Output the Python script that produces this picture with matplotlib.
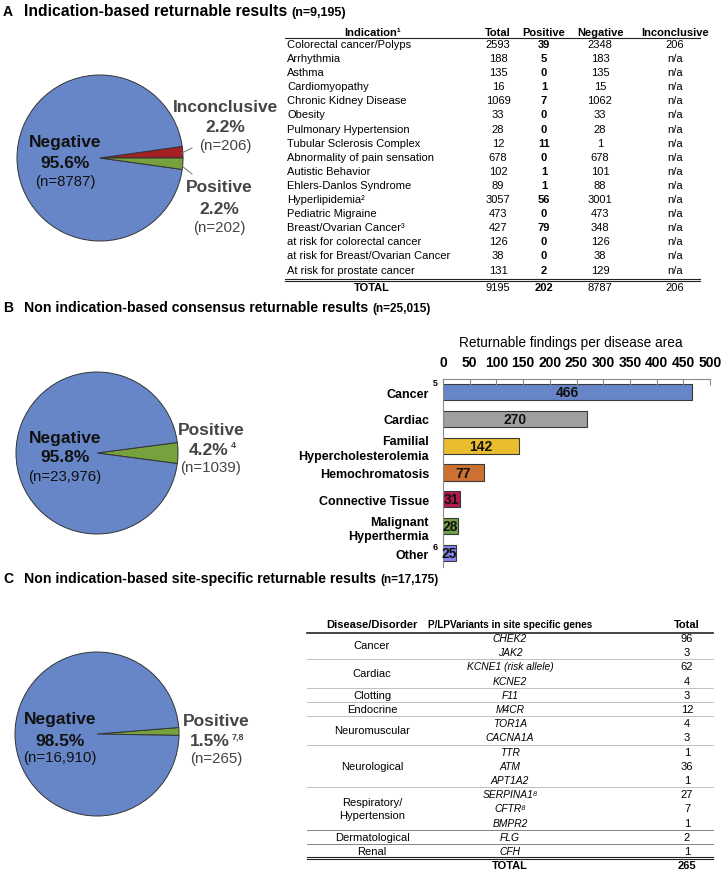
import matplotlib
matplotlib.use("Agg")
import matplotlib.pyplot as plt

W, H = 723, 879
plt.rcParams['font.family'] = ['Liberation Sans', 'DejaVu Sans']

BLUE = '#6686C8'
RED = '#A32024'
GREEN = '#77A13C'
GREY_TXT = '#454545'

# ---- panel A data ----
pie_a_counts = [206, 8787, 202]          # inconclusive, negative, positive
pie_a_colors = [RED, BLUE, GREEN]

ind_header = ['Indication¹', 'Total', 'Positive', 'Negative', 'Inconclusive']
ind_names = ['Colorectal cancer/Polyps', 'Arrhythmia', 'Asthma', 'Cardiomyopathy',
             'Chronic Kidney Disease', 'Obesity', 'Pulmonary Hypertension',
             'Tubular Sclerosis Complex', 'Abnormality of pain sensation',
             'Autistic Behavior', 'Ehlers-Danlos Syndrome', 'Hyperlipidemia²',
             'Pediatric Migraine', 'Breast/Ovarian Cancer³', 'at risk for colorectal cancer',
             'at risk for Breast/Ovarian Cancer', 'At risk for prostate cancer']
ind_total = [2593, 188, 135, 16, 1069, 33, 28, 12, 678, 102, 89, 3057, 473, 427, 126, 38, 131]
ind_pos = [39, 5, 0, 1, 7, 0, 0, 11, 0, 1, 1, 56, 0, 79, 0, 0, 2]
ind_neg = [2348, 183, 135, 15, 1062, 33, 28, 1, 678, 101, 88, 3001, 473, 348, 126, 38, 129]
ind_inc = ['206'] + ['n/a'] * 16
ind_sum = ['9195', '202', '8787', '206']

# ---- panel B data ----
pie_b_counts = [1039, 23976]             # positive, negative
area_names = ['Cancer', 'Cardiac', 'Familial\nHypercholesterolemia', 'Hemochromatosis',
              'Connective Tissue', 'Malignant\nHyperthermia', 'Other']
area_counts = [466, 270, 142, 77, 31, 28, 25]
area_colors = ['#6686C8', '#A0A0A0', '#E8BE2E', '#CC7132', '#B01A4C', '#72A044', '#8585F0']

# ---- panel C data ----
pie_c_counts = [265, 16910]              # positive, negative
site_groups = ['Cancer', 'Cardiac', 'Clotting', 'Endocrine', 'Neuromuscular', 'Neurological',
               'Respiratory/\nHypertension', 'Dermatological', 'Renal']
site_group_sizes = [2, 2, 1, 1, 2, 3, 3, 1, 1]
site_genes = ['CHEK2', 'JAK2', 'KCNE1 (risk allele)', 'KCNE2', 'F11', 'M4CR', 'TOR1A',
              'CACNA1A', 'TTR', 'ATM', 'APT1A2', 'SERPINA1⁸', 'CFTR⁸', 'BMPR2', 'FLG', 'CFH']
site_totals = [96, 3, 62, 4, 3, 12, 4, 3, 1, 36, 1, 27, 7, 1, 2, 1]
site_sum = 265


fig = plt.figure(figsize=(W / 100, H / 100), dpi=100)
ax0 = fig.add_axes([0, 0, 1, 1], zorder=10)
ax0.set_xlim(0, W)
ax0.set_ylim(H, 0)
ax0.axis('off')
ax0.patch.set_alpha(0)
renderer = fig.canvas.get_renderer()


def right_edge(t):
    bb = t.get_window_extent(renderer=renderer)
    return ax0.transData.inverted().transform((bb.x1, bb.y0))[0]


def panel_title(y, letter, main, n, size=11.3, n_size=9):
    ax0.text(3, y, letter, fontsize=10, fontweight='bold', va='center')
    t = ax0.text(24, y, main, fontsize=size, fontweight='bold', va='center')
    ax0.text(right_edge(t) + 4, y + 1, n, fontsize=n_size, fontweight='bold', va='center')


def pie_axes(cx, cy, r):
    ax = fig.add_axes([(cx - r) / W, 1 - (cy + r) / H, 2 * r / W, 2 * r / H])
    return ax


def finish_pie(ax):
    ax.set_xlim(-1, 1)
    ax.set_ylim(-1, 1)
    ax.set_aspect('equal')
    ax.axis('off')


def pie_label(x, ys, lines, color, sizes=(12.5, 12.5, 10.8)):
    for y, s, fs, w in zip(ys, lines, sizes, ['bold', 'bold', 'normal']):
        ax0.text(x, y, s, fontsize=fs, fontweight=w, color=color, ha='center', va='center')


# ================= A =================
panel_title(12, 'A', 'Indication-based returnable results', '(n=9,195)')

ax = pie_axes(100, 159, 83)
ax.pie(pie_a_counts, colors=pie_a_colors, startangle=0, counterclock=True,
       wedgeprops=dict(edgecolor='#333333', linewidth=0.7))
finish_pie(ax)

pie_label(65, [143, 163, 182], ['Negative', '95.6%', '(n=8787)'], '#111111')
pie_label(225, [107, 128, 146], ['Inconclusive', '2.2%', '(n=206)'], GREY_TXT)
pie_label(219, [188, 210, 228], ['Positive', '2.2%', '(n=202)'], GREY_TXT)
ax0.plot([182, 192], [154, 149], color='#777777', lw=0.7)
ax0.plot([182, 192], [167, 175], color='#777777', lw=0.7)

# table A
col_x = [498, 544, 600, 675]
ax0.text(373, 33, ind_header[0], fontsize=8, fontweight='bold', ha='center', va='center')
for x, s in zip(col_x, ind_header[1:]):
    ax0.text(x, 33, s, fontsize=8, fontweight='bold', ha='center', va='center')
ax0.plot([285, 700], [39, 39], color='#222222', lw=0.8)
for i, name in enumerate(ind_names):
    y = 45 + 14.1 * i
    ax0.text(287, y, name, fontsize=8, va='center')
    ax0.text(col_x[0], y, str(ind_total[i]), fontsize=8, ha='center', va='center')
    ax0.text(col_x[1], y, str(ind_pos[i]), fontsize=8, fontweight='bold', ha='center', va='center')
    ax0.text(col_x[2], y, str(ind_neg[i]), fontsize=8, ha='center', va='center')
    ax0.text(col_x[3], y, ind_inc[i], fontsize=8, ha='center', va='center')
ax0.plot([285, 700], [280.2, 280.2], color='#222222', lw=0.8)
ax0.plot([285, 700], [282.2, 282.2], color='#222222', lw=0.8)
ax0.text(372, 288, 'TOTAL', fontsize=8, fontweight='bold', ha='center', va='center')
for x, s, w in zip(col_x, ind_sum, ['normal', 'bold', 'normal', 'normal']):
    ax0.text(x, 288, s, fontsize=8, fontweight=w, ha='center', va='center')

# ================= B =================
panel_title(308, 'B', 'Non indication-based consensus returnable results', '(n=25,015)',
            size=10.2, n_size=8.5)

ax = pie_axes(97, 454, 81)
ax.pie(pie_b_counts, colors=[GREEN, BLUE], startangle=-7.5, counterclock=True,
       wedgeprops=dict(edgecolor='#333333', linewidth=0.7))
finish_pie(ax)

pie_label(65, [439, 458, 477], ['Negative', '95.8%', '(n=23,976)'], '#111111')
pie_label(211, [431, 451, 468], ['Positive', '', '(n=1039)'], GREY_TXT)
t = ax0.text(209, 451, '4.2%', fontsize=12.5, fontweight='bold', color=GREY_TXT,
             ha='center', va='center')
ax0.text(right_edge(t) + 1.5, 446, '4', fontsize=6.5, fontweight='bold', color=GREY_TXT,
         va='center')

# bar chart
axb = fig.add_axes([443 / W, 1 - 568 / H, (710 - 443) / W, (568 - 380) / H])
pos = list(range(len(area_names)))
axb.barh(pos, area_counts, height=0.6, color=area_colors, edgecolor='#3a3a3a', linewidth=0.8)
for i, v in enumerate(area_counts):
    axb.text(v / 2, i, str(v), ha='center', va='center', fontsize=10, fontweight='bold',
             color='#111111')
axb.set_xlim(0, 500)
axb.set_ylim(6.52, -0.485)
axb.xaxis.tick_top()
axb.set_xticks(range(0, 501, 50))
axb.set_xticklabels([str(v) for v in range(0, 501, 50)], fontsize=10, fontweight='bold')
axb.tick_params(axis='x', direction='in', length=4, color='#8a8a8a', pad=7)
axb.set_yticks(pos)
axb.set_yticklabels(area_names, fontsize=9, fontweight='bold', linespacing=1.3)
axb.tick_params(axis='y', length=0, pad=10)
for side in ['right', 'bottom']:
    axb.spines[side].set_visible(False)
for side in ['top', 'left']:
    axb.spines[side].set_color('#8a8a8a')
    axb.spines[side].set_linewidth(0.8)
ax0.text(571, 343, 'Returnable findings per disease area', fontsize=9.8, ha='center',
         va='center')
ax0.text(433, 384, '5', fontsize=6.5, fontweight='bold', va='center')
ax0.text(433, 548, '6', fontsize=6.5, fontweight='bold', va='center')

# ================= C =================
panel_title(579, 'C', 'Non indication-based site-specific returnable results', '(n=17,175)',
            size=10.2, n_size=8.5)

ax = pie_axes(97, 735, 82)
ax.pie(pie_c_counts, colors=[GREEN, BLUE], startangle=-1, counterclock=True,
       wedgeprops=dict(edgecolor='#333333', linewidth=0.7))
finish_pie(ax)

pie_label(60, [720, 742, 758], ['Negative', '98.5%', '(n=16,910)'], '#111111')
pie_label(216, [722, 742, 759], ['Positive', '', '(n=265)'], GREY_TXT)
t = ax0.text(210, 742, '1.5%', fontsize=12.5, fontweight='bold', color=GREY_TXT,
             ha='center', va='center')
ax0.text(right_edge(t) + 1.5, 737, '7,8', fontsize=6.5, fontweight='bold', color=GREY_TXT,
         va='center')

# table C
cx_dis, cx_gene, cx_tot = 372, 510, 687
ax0.text(cx_dis, 625, 'Disease/Disorder', fontsize=8, fontweight='bold', ha='center', va='center')
ax0.text(cx_gene, 625, 'P/LPVariants in site specific genes', fontsize=7.2, fontweight='bold',
         ha='center', va='center')
ax0.text(cx_tot, 625, 'Total', fontsize=8, fontweight='bold', ha='center', va='center')
ax0.plot([307, 713], [634, 634], color='#222222', lw=1.2)


def row_y(i):
    return 639 + 14.2 * i


for i, (g, n) in enumerate(zip(site_genes, site_totals)):
    ax0.text(cx_gene, row_y(i), g, fontsize=7.4, style='italic', ha='center', va='center')
    ax0.text(cx_tot, row_y(i), str(n), fontsize=8, ha='center', va='center')

start = 0
for k, (grp, size) in enumerate(zip(site_groups, site_group_sizes)):
    mid = (row_y(start) + row_y(start + size - 1)) / 2
    ax0.text(cx_dis, mid, grp, fontsize=8, ha='center', va='center', linespacing=1.35)
    start += size
    if k < len(site_groups) - 1:
        yl = row_y(start - 0.5)
        col = '#707070' if k >= 6 else '#b5b5b5'
        ax0.plot([307, 713], [yl, yl], color=col, lw=0.6)

yl = row_y(start - 0.5)
ax0.plot([307, 713], [yl - 1, yl - 1], color='#222222', lw=0.8)
ax0.plot([307, 713], [yl + 1, yl + 1], color='#222222', lw=0.8)
ax0.text(cx_gene, row_y(start), 'TOTAL', fontsize=8, fontweight='bold', ha='center', va='center')
ax0.text(cx_tot, row_y(start), str(site_sum), fontsize=8, fontweight='bold', ha='center',
         va='center')

fig.savefig('out.png', dpi=100)
